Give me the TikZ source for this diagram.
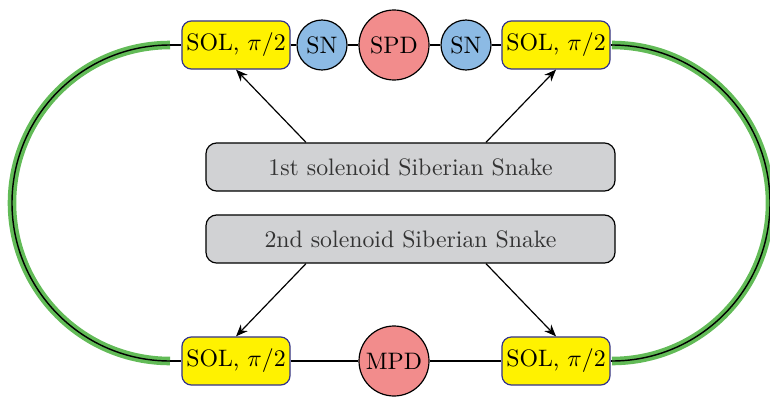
\documentclass[tikz,border=0pt]{standalone}
\usetikzlibrary{arrows.meta}
\definecolor{solyellow}{RGB}{255,242,0}
\definecolor{solborder}{RGB}{50,50,140}
\definecolor{snblue}{RGB}{140,186,228}
\definecolor{pdred}{RGB}{242,140,140}
\definecolor{boxgray}{RGB}{209,210,212}
\definecolor{ringgreen}{RGB}{98,187,87}
\begin{document}
\begin{tikzpicture}[x=0.42pt,y=0.42pt,
 sol/.style={draw=solborder, fill=solyellow, rounded corners=4pt, minimum width=45.4pt, minimum height=20.2pt, inner sep=1pt, line width=0.5pt},
 sn/.style={circle, draw, fill=snblue, minimum size=21pt, inner sep=0pt, line width=0.5pt},
 pd/.style={circle, draw, fill=pdred, minimum size=29.4pt, inner sep=0pt, line width=0.5pt},
 snake/.style={draw, fill=boxgray, rounded corners=4.5pt, minimum width=171.8pt, minimum height=20.2pt, line width=0.5pt, text=black!80},
 ring/.style={ringgreen, line width=3.6pt},
 core/.style={black, line width=0.6pt},
 link/.style={black, line width=0.5pt},
 ptr/.style={-{Stealth[length=5pt,width=4pt]}, line width=0.5pt}]
\useasboundingbox (0,0) rectangle (770,396);
% ring ends
\coordinate (lt) at (170,351); \coordinate (lb) at (170,35);
\coordinate (rt) at (612,351); \coordinate (rb) at (612,35);
% green arcs
\draw[ring] (lt) arc[start angle=90,end angle=270,radius=66.36pt];
\draw[core] (lt) arc[start angle=90,end angle=270,radius=66.36pt];
\draw[ring] (rt) arc[start angle=90,end angle=-90,radius=66.36pt];
\draw[core] (rt) arc[start angle=90,end angle=-90,radius=66.36pt];
% nodes
\node[sol] (solTL) at (236,351) {SOL, $\pi/2$};
\node[sn] (snL) at (322,351) {SN};
\node[pd] (spd) at (394,351) {SPD};
\node[sn] (snR) at (466,351) {SN};
\node[sol] (solTR) at (556,351) {SOL, $\pi/2$};
\node[sol] (solBL) at (236,35) {SOL, $\pi/2$};
\node[pd] (mpd) at (394,35) {MPD};
\node[sol] (solBR) at (556,35) {SOL, $\pi/2$};
\node[snake] (s1) at (410.5,229) {1st solenoid Siberian Snake};
\node[snake] (s2) at (410.5,157) {2nd solenoid Siberian Snake};
% links
\draw[link] (solTL) -- (snL) -- (spd) -- (snR) -- (solTR);
\draw[link] (solBL) -- (mpd) -- (solBR);
\draw[link] (lt) -- (solTL.west);
\draw[link] (lb) -- (solBL.west);
\draw[link] (rt) -- (solTR.east);
\draw[link] (rb) -- (solBR.east);
% arrows
\draw[ptr] ([xshift=-43.9pt]s1.north) -- (solTL.south);
\draw[ptr] ([xshift=31.7pt]s1.north) -- (solTR.south);
\draw[ptr] ([xshift=-43.9pt]s2.south) -- (solBL.north);
\draw[ptr] ([xshift=31.7pt]s2.south) -- (solBR.north);
\end{tikzpicture}
\end{document}
